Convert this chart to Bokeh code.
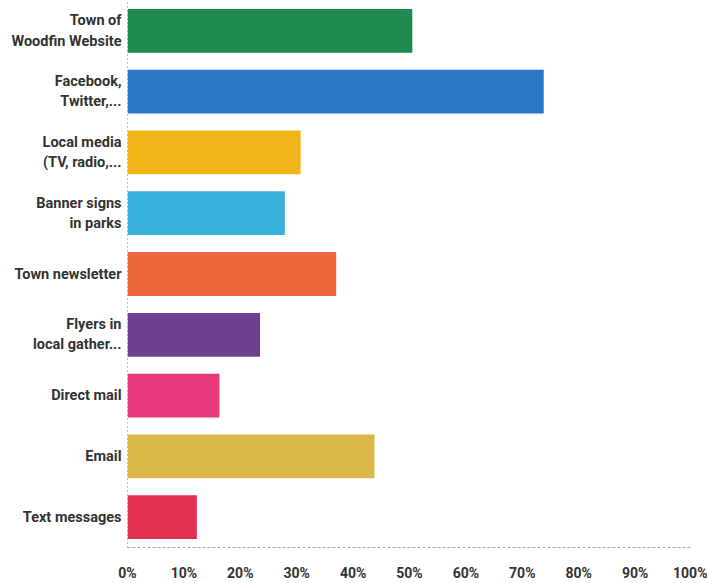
from bokeh.plotting import figure
from bokeh.models import ColumnDataSource, FixedTicker, PrintfTickFormatter, Range1d
from bokeh.embed import file_html
from bokeh.resources import INLINE

# Data (top to bottom)
categories = [
    "Town of\nWoodfin Website",
    "Facebook,\nTwitter,...",
    "Local media\n(TV, radio,...",
    "Banner signs\nin parks",
    "Town newsletter",
    "Flyers in\nlocal gather...",
    "Direct mail",
    "Email",
    "Text messages",
]
percent_values = [50.5, 73.8, 30.7, 27.9, 37.0, 23.5, 16.3, 43.8, 12.3]
x_tick_values = [0, 10, 20, 30, 40, 50, 60, 70, 80, 90, 100]

bar_colors = ["#1f8a4f", "#2b77c5", "#f0b51a", "#3ab0dc", "#ee673a",
              "#6e3f8e", "#e8387c", "#dcb84a", "#e2324f"]

source = ColumnDataSource(dict(cat=categories, val=percent_values, color=bar_colors))

p = figure(
    width=707, height=583,
    y_range=list(reversed(categories)),
    x_range=Range1d(0, 100),
    output_backend="svg", toolbar_location=None,
    min_border_left=127, min_border_right=16,
    min_border_top=0, min_border_bottom=30,
)

p.hbar(y="cat", right="val", left=0, height=0.72, color="color",
       line_color=None, source=source)

p.outline_line_color = None
p.xgrid.grid_line_color = None
p.ygrid.grid_line_color = None
p.background_fill_color = "white"
p.border_fill_color = "white"

# y axis
ya = p.yaxis[0]
ya.axis_line_color = "#888888"
ya.axis_line_dash = "1 3"
ya.major_tick_line_color = None
ya.minor_tick_line_color = None
ya.major_label_standoff = 0
ya.major_label_text_font = "Roboto"
ya.major_label_text_font_style = "bold"
ya.major_label_text_font_size = "14.5px"
ya.major_label_text_color = "#333333"

# x axis
xa = p.xaxis[0]
xa.ticker = FixedTicker(ticks=x_tick_values)
xa.formatter = PrintfTickFormatter(format="%d%%")
xa.axis_line_color = "#9aaab8"
xa.axis_line_dash = "3 2"
xa.major_tick_line_color = None
xa.minor_tick_line_color = None
xa.major_label_standoff = 11
xa.major_label_text_font = "Roboto"
xa.major_label_text_font_style = "bold"
xa.major_label_text_font_size = "14px"
xa.major_label_text_color = "#333333"

open("out.html", "w").write(file_html(p, INLINE))
